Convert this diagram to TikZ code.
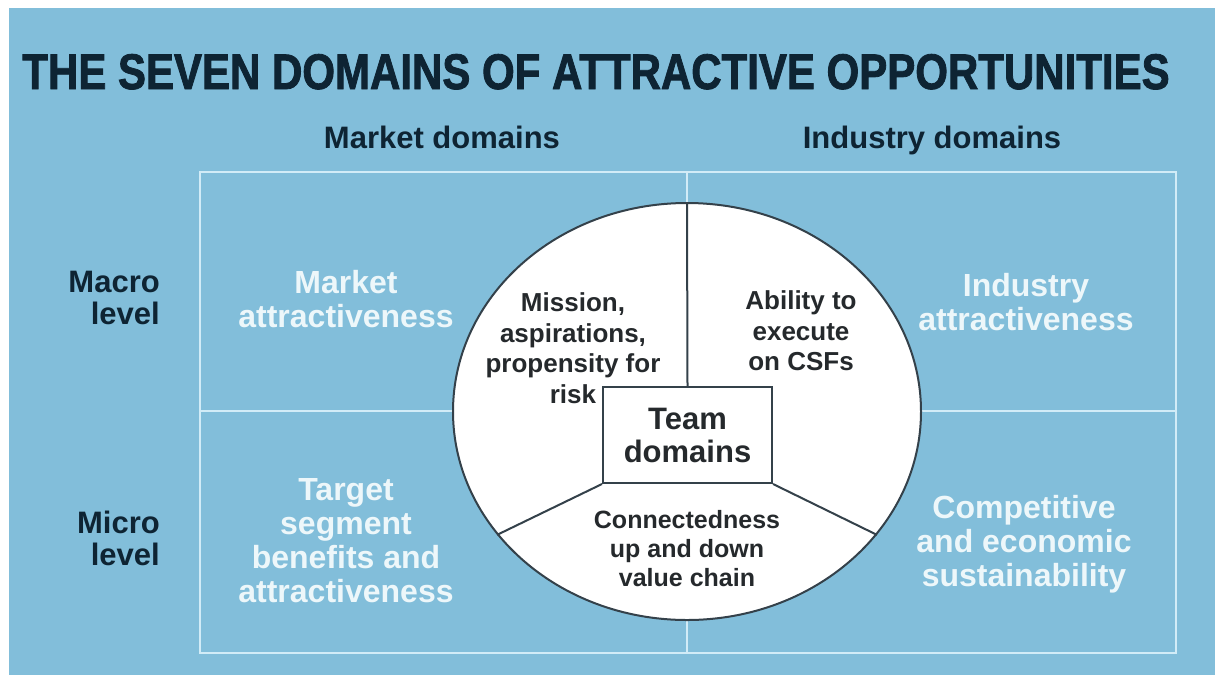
\documentclass[tikz,border=0pt]{standalone}
\usepackage{fontspec}
\setmainfont{Liberation Sans}
\newfontfamily\narrowfont[FakeStretch=0.84,FakeBold=1.6]{Liberation Sans}
\usetikzlibrary{shapes.geometric,positioning}

\definecolor{bgblue}{HTML}{82BEDA}
\definecolor{gridline}{HTML}{D2ECF7}
\definecolor{navy}{HTML}{0E2433}
\definecolor{celltext}{HTML}{EDF7FA}
\definecolor{inktext}{HTML}{25292C}
\definecolor{inkline}{HTML}{34414A}

\begin{document}
\begin{tikzpicture}
[x=1pt, y=-1pt,
% STYLES
every node/.style={inner sep=0pt},
% The header style is used for the column and row names
header/.style={text=navy, font=\bfseries\fontsize{31}{32}\selectfont},
rowlabel/.style={header, align=right, anchor=east},
% The cell style is used for the four outer domains
cell/.style={text=celltext, align=center, font=\bfseries\fontsize{32}{34}\selectfont},
% The team style is used for the three inner domains
team/.style={text=inktext, align=center, font=\bfseries\fontsize{26}{30.5}\selectfont},
grid/.style={draw=gridline, line width=2pt},
divider/.style={draw=inkline, line width=2pt}]

\useasboundingbox (0,0) rectangle (1215,675);
\fill[white] (0,0) rectangle (1215,675);
\fill[bgblue] (9,8) rectangle (1215,675);

% Title
\node[anchor=base, text=navy, font=\narrowfont\bfseries\fontsize{50}{50}\selectfont] (title) at (596,89)
  {THE SEVEN DOMAINS OF ATTRACTIVE OPPORTUNITIES};

% Column and row names
\node[header, anchor=base] (market) at (442,148) {Market domains};
\node[header, anchor=base] (industry) at (932,148) {Industry domains};
\node[rowlabel] (macro) at (160,298) {Macro\\level};
\node[rowlabel] (micro) at (160,538) {Micro\\level};

% Draw the 2x2 grid
\draw[grid] (200,172) rectangle (1176,653);
\draw[grid] (687,172) -- (687,653);
\draw[grid] (200,411) -- (1176,411);

% Outer domains
\node[cell] (marketattr) at (346,299) {Market\\attractiveness};
\node[cell] (industryattr) at (1026,302) {Industry\\attractiveness};
\node[cell] (segment) at (346,541) {Target\\segment\\benefits and\\attractiveness};
\node[cell] (sustain) at (1024,544) {Competitive\\and economic\\sustainability};

% Team domains in the middle
\node[ellipse, draw=inkline, line width=2pt, fill=white, minimum width=468pt, minimum height=417pt] (core) at (687,411.5) {};
\node[draw=inkline, line width=2pt, fill=white, minimum width=169pt, minimum height=96pt,
  team, font=\bfseries\fontsize{31}{33}\selectfont] (teambox) at (687.5,435) {Team\\domains};

\draw[divider] (core.north) -- (teambox.north);
\draw[divider] (teambox.south west) -- (core.213.3);
\draw[divider] (teambox.south east) -- (core.-33.3);

\node[team] (mission) at (573,348) {Mission,\\aspirations,\\propensity for\\risk};
\node[team] (ability) at (801,331) {Ability to\\execute\\on CSFs};
\node[team, font=\bfseries\fontsize{25}{29}\selectfont] (chain) at (687,549) {Connectedness\\up and down\\value chain};

\end{tikzpicture}
\end{document}
